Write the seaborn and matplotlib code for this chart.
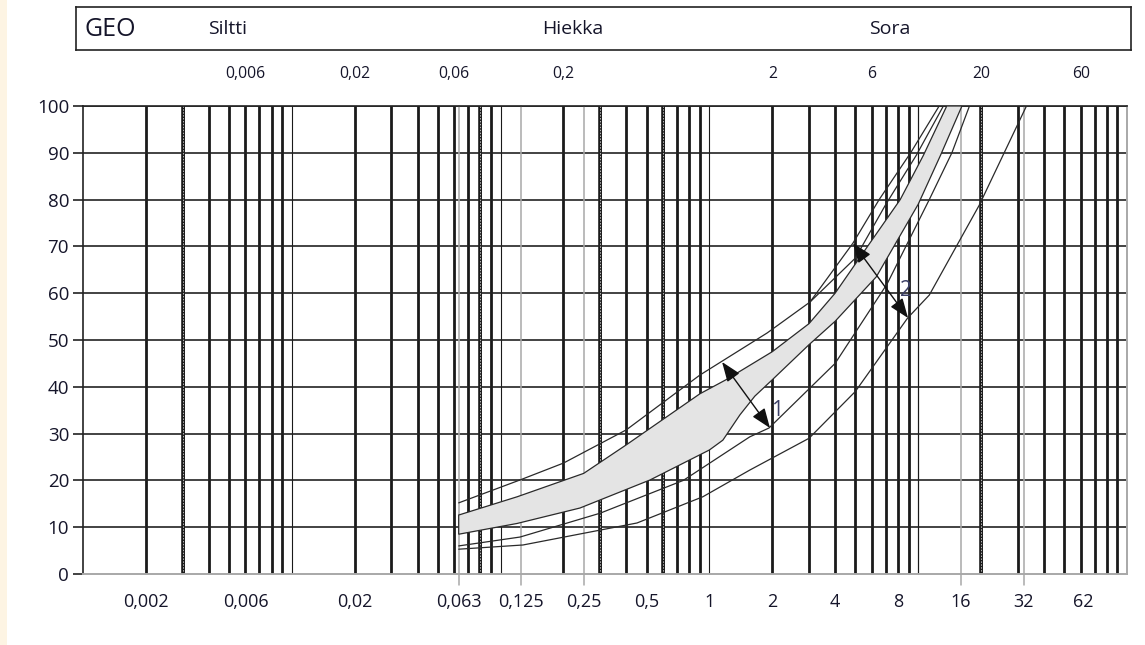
import numpy as np
import pandas as pd
import matplotlib
matplotlib.use("Agg")
import matplotlib.pyplot as plt
import matplotlib.transforms as mtransforms
from matplotlib.patches import Rectangle
import seaborn as sns

# ---------------- data ----------------
# outer upper curve
upper_x = [0.063, 0.124, 0.2, 0.4, 0.9, 1.89, 3.03, 4.87, 6.5, 9.2, 12.6]
upper_y = [15.2, 20.1, 23.7, 30.8, 42.5, 51.5, 58.1, 70.7, 80.0, 90.0, 100.0]
# inner upper curve (branches off near the top)
upper2_x = [3.03, 5.0, 7.0, 9.8, 13.2]
upper2_y = [58.1, 67.5, 79.0, 89.5, 100.0]
# grey band: upper edge
band_top_x = [0.063, 0.12, 0.25, 0.4, 0.9, 1.2, 2.0, 3.0, 4.0, 5.44, 8.2, 10.6, 13.7]
band_top_y = [12.6, 16.5, 21.5, 27.6, 38.5, 41.5, 47.5, 53.5, 60.0, 68.6, 80.0, 89.5, 100.0]
# grey band: lower edge
band_bot_x = [0.063, 0.12, 0.24, 0.52, 1.0, 1.16, 1.4, 1.65, 2.0, 3.0, 4.0, 6.3, 10.0, 12.8, 16.2]
band_bot_y = [8.5, 10.8, 14.1, 20.1, 26.5, 28.6, 34.0, 38.0, 41.5, 49.0, 54.0, 63.5, 79.0, 89.5, 100.0]
# lower curve 1
low1_x = [0.063, 0.124, 0.3, 0.75, 1.56, 1.93, 4.0, 7.1, 11.3, 14.5, 17.6]
low1_y = [6.0, 7.9, 13.0, 20.0, 29.3, 31.2, 45.0, 62.0, 80.0, 90.0, 100.0]
# lower curve 2
low2_x = [0.063, 0.128, 0.45, 0.93, 1.56, 3.0, 5.0, 8.9, 11.3, 19.6, 33.0]
low2_y = [5.3, 6.2, 10.9, 16.5, 22.2, 29.0, 39.0, 54.7, 59.6, 78.8, 100.0]

# arrows (start, end) and labels
arrow_labels = ["1", "2"]
arrow_start_x = [1.15, 4.87]
arrow_start_y = [45.3, 70.7]
arrow_end_x = [1.95, 8.94]
arrow_end_y = [31.2, 54.7]
arrow_label_x = [2.1, 8.7]
arrow_label_y = [35.0, 60.5]

# axis labels
bottom_tick_values = [0.002, 0.006, 0.02, 0.063, 0.125, 0.25, 0.5, 1, 2, 4, 8, 16, 32, 62]
bottom_tick_labels = ["0,002", "0,006", "0,02", "0,063", "0,125", "0,25", "0,5", "1",
                      "2", "4", "8", "16", "32", "62"]
top_values = [0.006, 0.02, 0.06, 0.2, 2, 6, 20, 60]
top_labels = ["0,006", "0,02", "0,06", "0,2", "2", "6", "20", "60"]
y_ticks = [0, 10, 20, 30, 40, 50, 60, 70, 80, 90, 100]
header_title = "GEO"
header_classes = ["Siltti", "Hiekka", "Sora"]
header_class_x = [0.00495, 0.222, 7.33]
sieve_values = [0.063, 0.125, 0.25, 16, 32]
dotted_values = [0.003, 0.08, 0.3, 0.6, 20]

# ---------------- style ----------------
sns.set_theme(style="white")
plt.rcParams["font.family"] = ["Open Sans", "DejaVu Sans"]
TXT = "#15152a"

fig = plt.figure(figsize=(11.45, 6.45), dpi=100)
fig.patch.set_facecolor("white")
fig.add_artist(Rectangle((0, 0), 7 / 1145, 1, transform=fig.transFigure,
                         facecolor="#fdf4e3", edgecolor="none", zorder=0))

ax = fig.add_axes([83 / 1145, (645 - 574) / 645, 1044 / 1145, 468 / 645])
ax.set_xscale("log")
ax.set_xlim(0.001, 100)
ax.set_ylim(0, 100)

# vertical grid lines
for e in range(-3, 2):
    base = 10.0 ** e
    for m in range(2, 10):
        ax.axvline(m * base, color="#1a1a1a", lw=2.0, zorder=1)
    if e > -3:
        ax.axvline(base, color="#1a1a1a", lw=0.8, zorder=1)
ax.axvline(10.0, color="#1a1a1a", lw=0.8, zorder=1)
for v in dotted_values:
    ax.axvline(v, color="#1a1a1a", lw=2.6, zorder=1)
    ax.axvline(v, color="#bbbbbb", lw=0.7, ls=(0, (1.5, 1.5)), zorder=1.1)
for v in sieve_values:
    ax.plot([v, v], [-2.3, 100], color="#a8a8a8", lw=1.1, zorder=1.2, clip_on=False)

# horizontal grid lines
for t in y_ticks[1:]:
    ax.axhline(t, color="#222222", lw=1.2, zorder=1)

# band
band_poly_x = band_top_x + band_bot_x[::-1]
band_poly_y = band_top_y + band_bot_y[::-1]
ax.fill(band_poly_x, band_poly_y, facecolor="#e4e4e4", edgecolor="#2a2a2a",
        lw=0.9, zorder=3)

curves = pd.concat([
    pd.DataFrame({"x": upper_x, "y": upper_y, "c": "upper"}),
    pd.DataFrame({"x": upper2_x, "y": upper2_y, "c": "upper2"}),
    pd.DataFrame({"x": low1_x, "y": low1_y, "c": "low1"}),
    pd.DataFrame({"x": low2_x, "y": low2_y, "c": "low2"}),
])
sns.lineplot(data=curves, x="x", y="y", units="c", estimator=None, sort=False,
             color="#2a2a2a", lw=0.9, ax=ax, zorder=4, legend=False)

# arrows
for i in range(len(arrow_labels)):
    ax.annotate("", xy=(arrow_end_x[i], arrow_end_y[i]),
                xytext=(arrow_start_x[i], arrow_start_y[i]),
                arrowprops=dict(arrowstyle="<|-|>,head_length=1.0,head_width=0.38",
                                color="#111111", lw=1.0, shrinkA=0, shrinkB=0),
                zorder=6)
    ax.text(arrow_label_x[i], arrow_label_y[i], arrow_labels[i], fontsize=15,
            color="#3b3f66", ha="center", va="center", zorder=7)

# spines
for s in ["left", "top"]:
    ax.spines[s].set_color("#222222")
    ax.spines[s].set_linewidth(1.2)
for s in ["right", "bottom"]:
    ax.spines[s].set_color("#a8a8a8")
    ax.spines[s].set_linewidth(1.4)

ax.set_yticks(y_ticks)
ax.set_yticklabels([str(t) for t in y_ticks])
ax.tick_params(axis="y", left=True, length=7, width=1.2, color="#222222",
               labelsize=13.5, labelcolor=TXT, pad=3)
ax.set_xticks(bottom_tick_values)
ax.set_xticklabels(bottom_tick_labels)
ax.xaxis.set_minor_locator(matplotlib.ticker.NullLocator())
ax.tick_params(axis="x", bottom=False, length=0, labelsize=13,
               labelcolor=TXT, pad=14)
ax.set_xlabel("")
ax.set_ylabel("")

# top labels
for v, lab in zip(top_values, top_labels):
    ax.text(v, 1.068, lab, transform=ax.get_xaxis_transform(), ha="center",
            va="center", fontsize=11.3, color=TXT)

# header box
hdr = fig.add_axes([76 / 1145, (645 - 50) / 645, 1055 / 1145, 43 / 645])
hdr.set_xticks([])
hdr.set_yticks([])
for s in hdr.spines.values():
    s.set_color("#222222")
    s.set_linewidth(1.2)
hdr.text(0.0085, 0.47, header_title, transform=hdr.transAxes, ha="left",
         va="center", fontsize=18, color=TXT)
blend = mtransforms.blended_transform_factory(ax.transData, hdr.transAxes)
for cx, lab in zip(header_class_x, header_classes):
    hdr.text(cx, 0.5, lab, transform=blend, ha="center", va="center",
             fontsize=14, color=TXT)

fig.savefig("out.png", dpi=100)
